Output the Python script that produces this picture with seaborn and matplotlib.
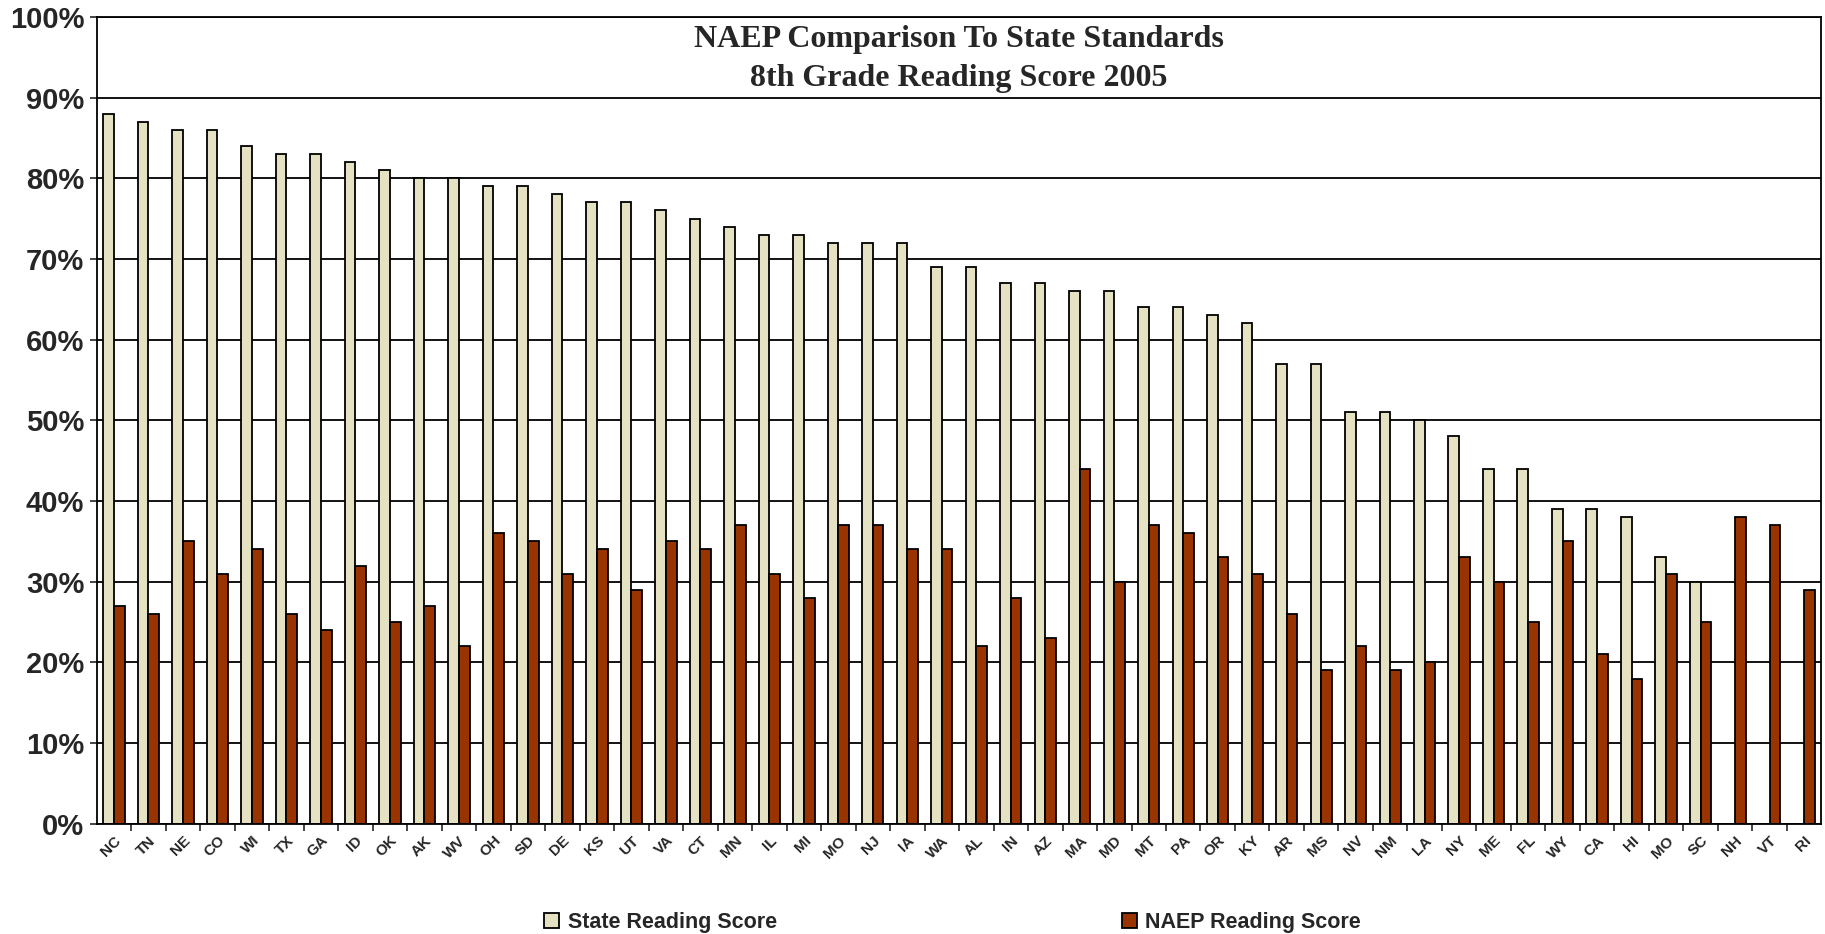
import numpy as np
import pandas as pd
import matplotlib
matplotlib.use("Agg")
import matplotlib.pyplot as plt
import seaborn as sns
from matplotlib.ticker import MultipleLocator, PercentFormatter

# data
states = ['NC', 'TN', 'NE', 'CO', 'WI', 'TX', 'GA', 'ID', 'OK', 'AK', 'WV', 'OH', 'SD', 'DE',
          'KS', 'UT', 'VA', 'CT', 'MN', 'IL', 'MI', 'MO', 'NJ', 'IA', 'WA', 'AL', 'IN', 'AZ',
          'MA', 'MD', 'MT', 'PA', 'OR', 'KY', 'AR', 'MS', 'NV', 'NM', 'LA', 'NY', 'ME', 'FL',
          'WY', 'CA', 'HI', 'MO', 'SC', 'NH', 'VT', 'RI']
state_score = [88, 87, 86, 86, 84, 83, 83, 82, 81, 80, 80, 79, 79, 78, 77, 77, 76, 75, 74, 73,
               73, 72, 72, 72, 69, 69, 67, 67, 66, 66, 64, 64, 63, 62, 57, 57, 51, 51, 50, 48,
               44, 44, 39, 39, 38, 33, 30, np.nan, np.nan, np.nan]
naep_score = [27, 26, 35, 31, 34, 26, 24, 32, 25, 27, 22, 36, 35, 31, 34, 29, 35, 34, 37, 31,
              28, 37, 37, 34, 34, 22, 28, 23, 44, 30, 37, 36, 33, 31, 26, 19, 22, 19, 20, 33,
              30, 25, 35, 21, 18, 31, 25, 38, 37, 29]
series = ['State Reading Score', 'NAEP Reading Score']
colors = ['#E4E2C2', '#993300']

n = len(states)
df = pd.DataFrame({
    'pos': list(range(n)) * 2,
    'score': state_score + naep_score,
    'series': [series[0]] * n + [series[1]] * n,
})

sns.set_style('white')
plt.rcParams['font.family'] = ['Liberation Sans', 'DejaVu Sans']

fig = plt.figure(figsize=(18.25, 9.34), dpi=100)
ax = fig.add_axes([0.053, 0.118, 0.945, 0.864])

sns.barplot(data=df, x='pos', y='score', hue='series', hue_order=series,
            palette=colors, width=0.62, edgecolor='black', linewidth=1.3,
            saturation=1, ax=ax, legend=True)

ax.set_ylim(0, 100)
ax.set_xlim(-0.5, n - 0.5)
ax.yaxis.set_major_locator(MultipleLocator(10))
ax.yaxis.set_major_formatter(PercentFormatter(decimals=0))
ax.grid(axis='y', color='black', linewidth=1.3)
ax.set_axisbelow(True)
for s in ax.spines.values():
    s.set_color('black')
    s.set_linewidth(1.3)

ax.set_xlabel('')
ax.set_ylabel('')
ax.set_xticks(range(n))
ax.set_xticklabels(states, rotation=45, ha='right', rotation_mode='anchor',
                   fontsize=11, fontweight='bold')
ax.tick_params(axis='x', which='major', length=0, pad=7)
ax.set_xticks(np.arange(n - 1) + 0.5, minor=True)
ax.tick_params(axis='x', which='minor', length=5, width=1.2, direction='out', bottom=True)
ax.tick_params(axis='y', length=5, width=1.2, direction='out', left=True,
               labelsize=21, pad=4)
for t in ax.get_yticklabels():
    t.set_fontweight('bold')

ax.text(0.5, 0.948, 'NAEP Comparison To State Standards\n8th Grade Reading Score 2005',
        transform=ax.transAxes, ha='center', va='center', fontsize=23,
        fontweight='bold', family=['Liberation Serif', 'DejaVu Serif'], linespacing=1.45)

handles, labels = ax.get_legend_handles_labels()
ax.legend_.remove()
fig.legend(handles, labels, loc='lower center', bbox_to_anchor=(0.522, -0.02), ncol=2,
           frameon=False, handlelength=0.7, handleheight=0.7, handletextpad=0.4,
           columnspacing=16, prop={'size': 15.5, 'weight': 'bold'})

fig.savefig('out.png', dpi=100)
